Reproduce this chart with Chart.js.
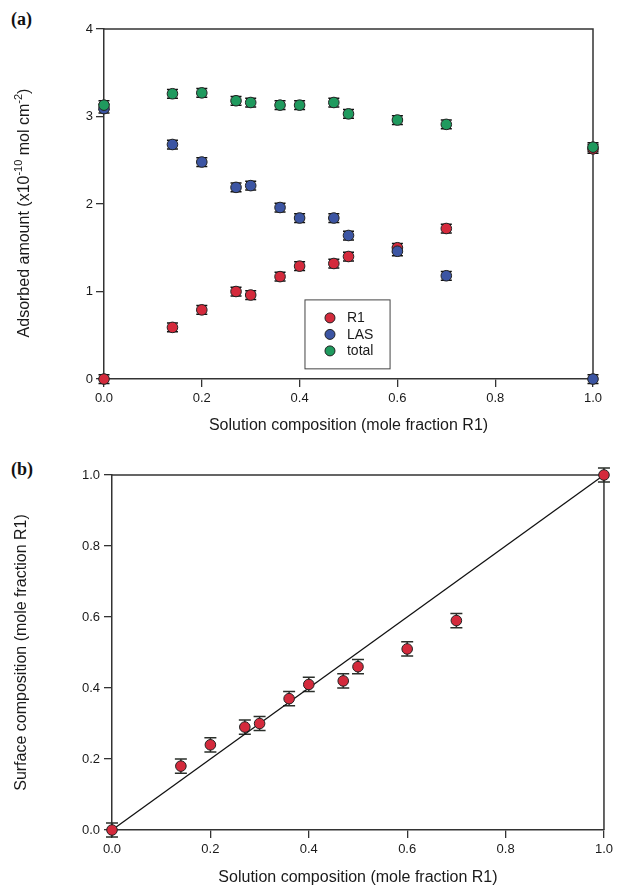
<!DOCTYPE html>
<html>
<head>
<meta charset="utf-8">
<script src="https://cdn.jsdelivr.net/npm/chart.js@4/dist/chart.umd.min.js"></script>
<style>
  body { margin: 0; background: #fff; width: 617px; height: 887px; position: relative; overflow: hidden; }
  canvas { position: absolute; left: 0; }
  #chartA { top: 0; }
  #chartB { top: 450px; }
  .panel { position: absolute; left: 11px; font: bold 18px "Liberation Serif", "Times New Roman", serif; color: #111; }
</style>
</head>
<body>
<div class="panel" style="top:9px">(a)</div>
<div class="panel" style="top:459px">(b)</div>
<canvas id="chartA" width="617" height="450"></canvas>
<canvas id="chartB" width="617" height="437"></canvas>
<script>
// solution composition (mole fraction R1)
const solution = [0, 0.14, 0.2, 0.27, 0.3, 0.36, 0.4, 0.47, 0.5, 0.6, 0.7, 1.0];

// panel (a): adsorbed amount, x10^-10 mol cm^-2
const r1Amount = [0, 0.59, 0.79, 1.0, 0.96, 1.17, 1.29, 1.32, 1.40, 1.50, 1.72, 2.63];
const lasAmount = [3.09, 2.68, 2.48, 2.19, 2.21, 1.96, 1.84, 1.84, 1.64, 1.46, 1.18, 0];
const totalAmount = [3.13, 3.26, 3.27, 3.18, 3.16, 3.13, 3.13, 3.16, 3.03, 2.96, 2.91, 2.65];
const amountErr = [0.05, 0.05, 0.05, 0.05, 0.05, 0.05, 0.05, 0.05, 0.05, 0.05, 0.05, 0.05];

// panel (b): surface composition (mole fraction R1)
const surface = [0, 0.18, 0.24, 0.29, 0.30, 0.37, 0.41, 0.42, 0.46, 0.51, 0.59, 1.0];
const surfaceErr = [0.02, 0.02, 0.02, 0.02, 0.02, 0.02, 0.02, 0.02, 0.02, 0.02, 0.02, 0.02];
const idealX = [0, 1];
const idealY = [0, 1];

const xTicks = [0, 0.2, 0.4, 0.6, 0.8, 1.0];
const legendLabels = ['R1', 'LAS', 'total'];

// y title of panel (a), pieces with superscripts
const amountTitle = [['Adsorbed amount (x10', false], ['-10', true], [' mol cm', false], ['-2', true], [')', false]];

const toPoints = (xs, ys) => xs.map((x, i) => ({ x: x, y: ys[i] }));

const FONT = '"Liberation Sans", Arial, sans-serif';
Chart.defaults.font.family = FONT;
Chart.defaults.color = '#1a1a1a';
Chart.defaults.animation = false;

// error bars drawn behind the markers
const errorBars = {
  id: 'errorBars',
  beforeDatasetsDraw(chart) {
    const { ctx, scales: { x, y } } = chart;
    chart.data.datasets.forEach(ds => {
      if (!ds.errors) return;
      ctx.save();
      ctx.strokeStyle = ds.errColor || '#111';
      ctx.lineWidth = 1.5;
      ds.data.forEach((p, j) => {
        const e = ds.errors[j];
        const px = x.getPixelForValue(p.x);
        const top = y.getPixelForValue(p.y + e);
        const bot = y.getPixelForValue(p.y - e);
        const cap = ds.capHalf || 5.5;
        ctx.beginPath();
        ctx.moveTo(px, top); ctx.lineTo(px, bot);
        ctx.moveTo(px - cap, top); ctx.lineTo(px + cap, top);
        ctx.moveTo(px - cap, bot); ctx.lineTo(px + cap, bot);
        ctx.stroke();
      });
      ctx.restore();
    });
  }
};

// top and right sides of the box
const frame = {
  id: 'frame',
  beforeDatasetsDraw(chart) {
    const { ctx, chartArea: a } = chart;
    ctx.save();
    ctx.strokeStyle = '#333';
    ctx.lineWidth = 1.5;
    ctx.beginPath();
    ctx.moveTo(a.left, a.top); ctx.lineTo(a.right, a.top); ctx.lineTo(a.right, a.bottom);
    ctx.stroke();
    ctx.restore();
  }
};

// rotated y title with real superscripts
const superTitle = {
  id: 'superTitle',
  afterDraw(chart) {
    const { ctx, chartArea: a } = chart;
    const big = '16px ' + FONT, small = '11px ' + FONT;
    ctx.save();
    let total = 0;
    amountTitle.forEach(([t, sup]) => { ctx.font = sup ? small : big; total += ctx.measureText(t).width; });
    ctx.translate(23, (a.top + a.bottom) / 2 + 9);
    ctx.rotate(-Math.PI / 2);
    ctx.fillStyle = '#1a1a1a';
    ctx.textBaseline = 'alphabetic';
    let x = -total / 2;
    amountTitle.forEach(([t, sup]) => {
      ctx.font = sup ? small : big;
      ctx.fillText(t, x, sup ? -1 : 5.5);
      x += ctx.measureText(t).width;
    });
    ctx.restore();
  }
};

// legend box inside panel (a)
const boxLegend = {
  id: 'boxLegend',
  afterDatasetsDraw(chart) {
    const { ctx, chartArea: a } = chart;
    const w = a.right - a.left, h = a.bottom - a.top;
    const bx = a.left + 0.411 * w, by = a.top + 0.774 * h;
    const bw = 0.174 * w, bh = 0.197 * h;
    ctx.save();
    ctx.fillStyle = '#fff';
    ctx.fillRect(bx, by, bw, bh);
    ctx.strokeStyle = '#444';
    ctx.lineWidth = 1;
    ctx.strokeRect(bx, by, bw, bh);
    ctx.font = '14px ' + FONT;
    ctx.textBaseline = 'middle';
    chart.data.datasets.forEach((ds, i) => {
      const cy = by + 18 + i * 16.5;
      ctx.beginPath();
      ctx.arc(bx + 25, cy, 5, 0, Math.PI * 2);
      ctx.fillStyle = ds.backgroundColor;
      ctx.fill();
      ctx.strokeStyle = '#222';
      ctx.stroke();
      ctx.fillStyle = '#1a1a1a';
      ctx.fillText(legendLabels[i], bx + 42, cy + 0.5);
    });
    ctx.restore();
  }
};

function axisX(height, titlePadBottom) {
  return {
    type: 'linear', min: 0, max: 1,
    afterBuildTicks: s => { s.ticks = xTicks.map(v => ({ value: v })); },
    afterFit: s => { s.height = height; },
    border: { color: '#333', width: 1.5 },
    grid: { drawOnChartArea: false, color: '#333', tickLength: 8, lineWidth: 1.3 },
    ticks: { padding: 4, font: { size: 13 }, callback: v => v.toFixed(1) },
    title: { display: true, text: 'Solution composition (mole fraction R1)',
      font: { size: 16 }, padding: { top: 0, bottom: titlePadBottom } }
  };
}

function axisY(width, opts) {
  return Object.assign({
    type: 'linear',
    afterFit: s => { s.width = width; },
    border: { color: '#333', width: 1.5 },
    grid: { drawOnChartArea: false, color: '#333', tickLength: 8, lineWidth: 1.3 }
  }, opts);
}

const markerStyle = { pointRadius: 5.3, pointBorderWidth: 1, pointBorderColor: '#222', showLine: false, clip: false };

new Chart(document.getElementById('chartA'), {
  type: 'scatter',
  data: {
    datasets: [
      Object.assign({ label: 'R1', data: toPoints(solution, r1Amount), errors: amountErr,
        backgroundColor: '#d42a3c', pointBackgroundColor: '#d42a3c', order: 2 }, markerStyle),
      Object.assign({ label: 'LAS', data: toPoints(solution, lasAmount), errors: amountErr,
        backgroundColor: '#3c55a3', pointBackgroundColor: '#3c55a3', order: 1 }, markerStyle),
      Object.assign({ label: 'total', data: toPoints(solution, totalAmount), errors: amountErr,
        backgroundColor: '#1f9a5e', pointBackgroundColor: '#1f9a5e', order: 0 }, markerStyle)
    ]
  },
  options: {
    responsive: false,
    layout: { padding: { top: 29, right: 24, left: 0, bottom: 0 } },
    plugins: { legend: { display: false }, tooltip: { enabled: false } },
    scales: {
      x: axisX(71, 15),
      y: axisY(104, {
        min: 0, max: 4,
        ticks: { stepSize: 1, padding: 3, font: { size: 13 } }
      })
    }
  },
  plugins: [frame, errorBars, boxLegend, superTitle]
});

new Chart(document.getElementById('chartB'), {
  type: 'scatter',
  data: {
    datasets: [
      Object.assign({ label: 'R1', data: toPoints(solution, surface), errors: surfaceErr, capHalf: 6,
        errColor: '#2a2f2a', backgroundColor: '#d42a3c', pointBackgroundColor: '#d42a3c', order: 0 }, markerStyle),
      { label: 'ideal', data: toPoints(idealX, idealY), showLine: true, borderColor: '#111',
        borderWidth: 1.3, pointRadius: 0, order: 1, clip: false }
    ]
  },
  options: {
    responsive: false,
    layout: { padding: { top: 25, right: 10, left: 0, bottom: 0 } },
    plugins: { legend: { display: false }, tooltip: { enabled: false } },
    scales: {
      x: axisX(57, 0),
      y: axisY(112, {
        min: 0, max: 1,
        afterBuildTicks: s => { s.ticks = xTicks.map(v => ({ value: v })); },
        ticks: { padding: 4, font: { size: 13 }, callback: v => v.toFixed(1) },
        title: { display: true, text: 'Surface composition (mole fraction R1)',
          font: { size: 16 }, padding: { top: 12, bottom: 0 } }
      })
    }
  },
  plugins: [frame, errorBars]
});
</script>
</body>
</html>
